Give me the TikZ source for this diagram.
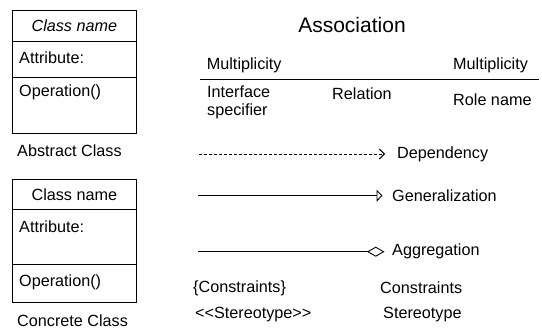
\documentclass[tikz,border=0pt]{standalone}
\usepackage{fontspec}
\setmainfont{Liberation Sans}
\usetikzlibrary{arrows.meta}
\begin{document}
\begin{tikzpicture}[x=1pt,y=-1pt,
  lbl/.style={font=\fontsize{16.2}{18}\selectfont, inner sep=0pt, anchor=west},
  comp/.style={draw, line width=0.9pt, minimum width=123.3pt, inner sep=0pt},
  rel/.style={line width=0.9pt}]
\useasboundingbox (0,0) rectangle (542,332);
% Abstract class
\node[comp, minimum height=31.3pt] (a1) at (74.35,25.65) {};
\node[comp, minimum height=36pt] (a2) at (74.35,59.3) {};
\node[comp, minimum height=55.7pt] (a3) at (74.35,105.15) {};
\node[lbl, anchor=center, font=\fontsize{16.2}{18}\selectfont\itshape] (an) at (74.35,26) {Class name};
\node[lbl] (aa) at (19,58) {Attribute:};
\node[lbl] (ao) at (19,92) {Operation()};
\node[lbl] (at) at (17,151) {Abstract Class};
% Concrete class
\node[comp, minimum height=30.3pt] (c1) at (74.35,194.15) {};
\node[comp, minimum height=55pt] (c2) at (74.35,236.8) {};
\node[comp, minimum height=38pt] (c3) at (74.35,283.3) {};
\node[lbl, anchor=center] (cn) at (74.35,195) {Class name};
\node[lbl] (ca) at (19,226.7) {Attribute:};
\node[lbl] (co) at (19,282.7) {Operation()};
\node[lbl] (ct) at (17,320.7) {Concrete Class};
% Association
\node[lbl, anchor=center, font=\fontsize{21}{24}\selectfont] (as) at (352,25) {Association};
\node[lbl] (m1) at (206.7,65) {Multiplicity};
\node[lbl] (m2) at (453,65) {Multiplicity};
\coordinate (l1) at (200,79);
\coordinate (l2) at (539,79);
\draw[rel] (l1) -- (l2);
\node[lbl, align=left, anchor=north west] (is) at (207,86) {Interface\\specifier};
\node[lbl] (re) at (332,94) {Relation};
\node[lbl] (rn) at (453,100) {Role name};
% Dependency
\coordinate (d1) at (199,154);
\node[lbl] (dp) at (397,154) {Dependency};
\draw[rel, dash pattern=on 3pt off 2pt, -{Straight Barb[length=5pt,width=10pt]}] (d1) -- (385,154);
% Generalization
\coordinate (g1) at (198,195.7);
\node[lbl] (ge) at (392,195.7) {Generalization};
\draw[rel, -{Triangle[open,length=6pt,width=12pt]}] (g1) -- (382.5,195.7);
% Aggregation
\coordinate (g2) at (198,251.7);
\node[lbl] (ag) at (392,251.7) {Aggregation};
\draw[rel, -{Diamond[open,length=17.5pt,width=10pt]}] (g2) -- (384.5,251.7);
% Constraints, stereotype
\node[lbl] (c1t) at (193,288) {\{Constraints\}};
\node[lbl] (c2t) at (380,288) {Constraints};
\node[lbl] (s1t) at (195,315) {<{}<Stereotype>{}>};
\node[lbl] (s2t) at (383,315) {Stereotype};
\end{tikzpicture}
\end{document}
